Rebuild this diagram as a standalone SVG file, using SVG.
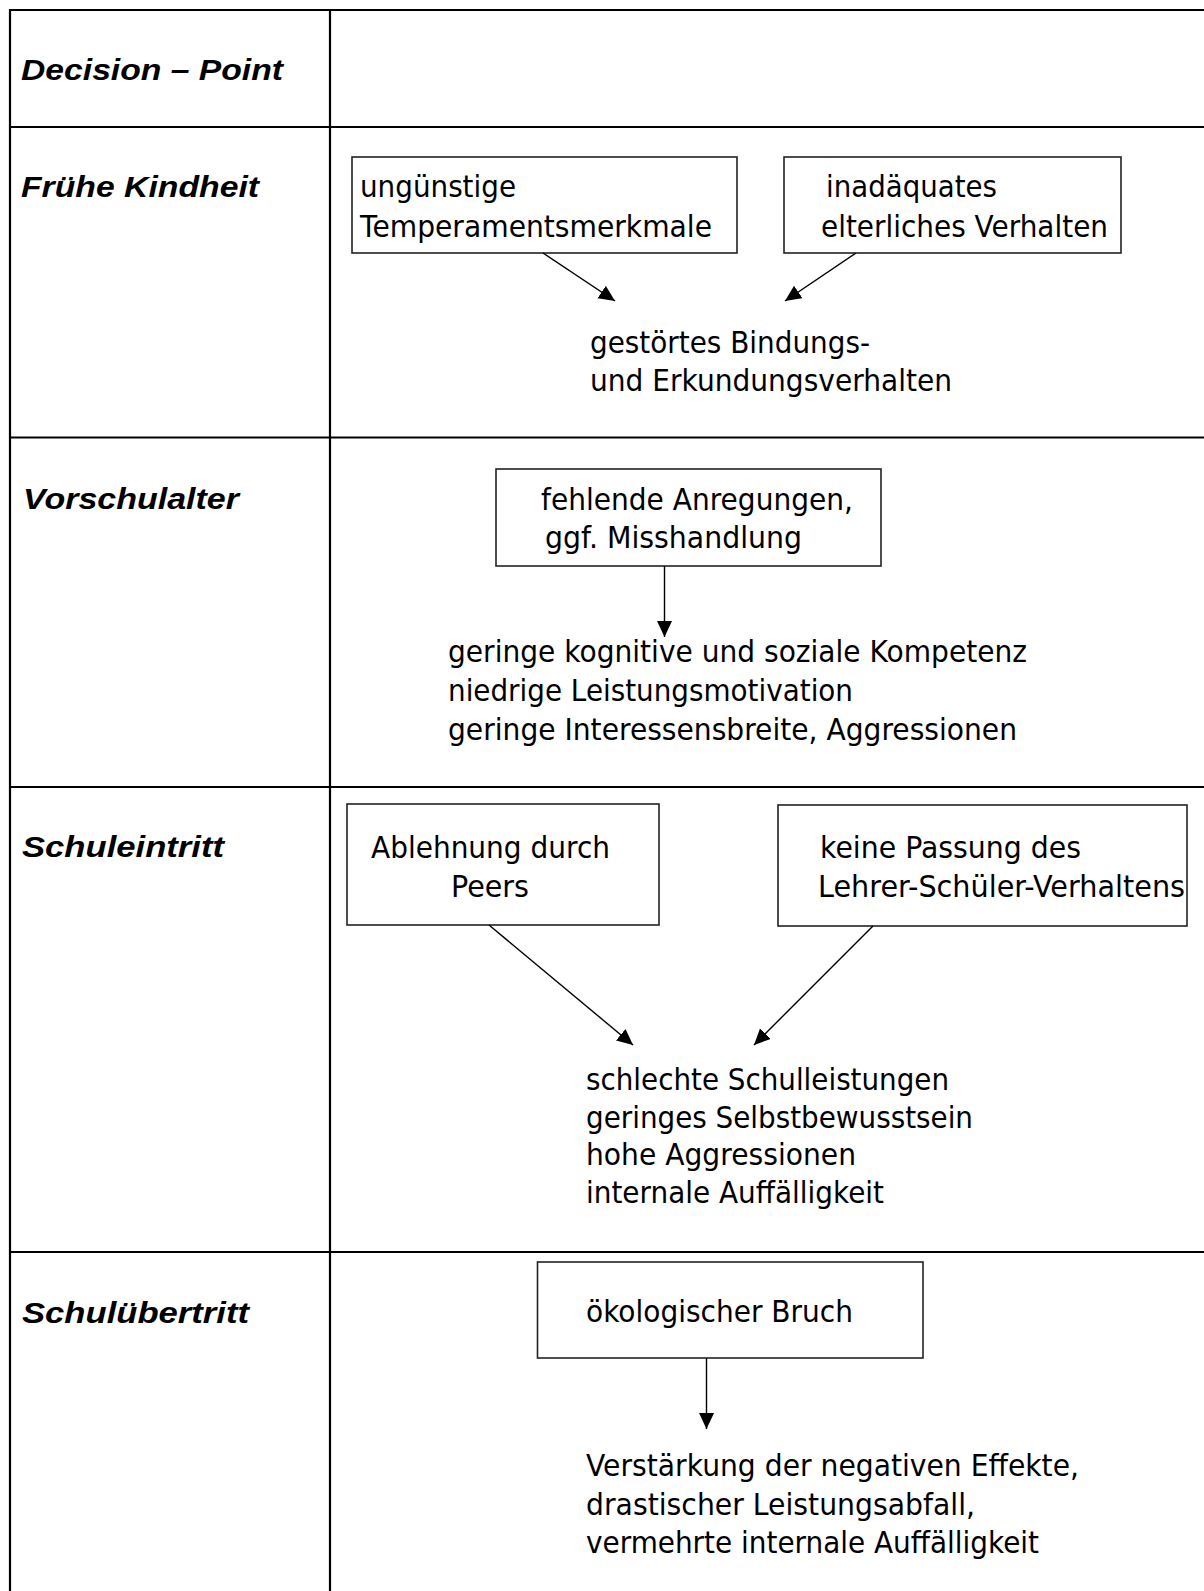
<svg xmlns="http://www.w3.org/2000/svg" width="1204" height="1591" viewBox="0 0 1204 1591">
<style>
.grid{stroke:#000;stroke-width:2.2;fill:none}
.box{fill:#fff;stroke:#222;stroke-width:1.6}
.lbl{font-family:"Liberation Sans",Arial,sans-serif;font-weight:bold;font-style:italic;font-size:30px;fill:#000}
.txt{font-family:"DejaVu Sans","Noto Sans",sans-serif;font-size:30px;fill:#000}
.arr{stroke:#000;stroke-width:1.4;fill:none;marker-end:url(#ah)}
</style>
<defs>
<marker id="ah" markerUnits="userSpaceOnUse" markerWidth="18" markerHeight="16" refX="16" refY="7.5" orient="auto">
<path d="M0,0 L16,7.5 L0,15 z" fill="#000"/>
</marker>
</defs>
<rect width="1204" height="1591" fill="#fff"/>
<g id="table">
<line class="grid" x1="10" y1="10" x2="1204" y2="10"/>
<line class="grid" x1="10" y1="9" x2="10" y2="1591"/>
<line class="grid" x1="330" y1="9" x2="330" y2="1591"/>
<line class="grid" x1="10" y1="127" x2="1204" y2="127"/>
<line class="grid" x1="10" y1="437.5" x2="1204" y2="437.5"/>
<line class="grid" x1="10" y1="787" x2="1204" y2="787"/>
<line class="grid" x1="10" y1="1252" x2="1204" y2="1252"/>
</g>
<g id="labels">
<text class="lbl" x="21" y="80" textLength="262" lengthAdjust="spacingAndGlyphs">Decision – Point</text>
<text class="lbl" x="21" y="197" textLength="238" lengthAdjust="spacingAndGlyphs">Frühe Kindheit</text>
<text class="lbl" x="23" y="509" textLength="216" lengthAdjust="spacingAndGlyphs">Vorschulalter</text>
<text class="lbl" x="22" y="857" textLength="202" lengthAdjust="spacingAndGlyphs">Schuleintritt</text>
<text class="lbl" x="22" y="1323" textLength="227" lengthAdjust="spacingAndGlyphs">Schulübertritt</text>
</g>
<g id="n1">
<rect class="box" x="352" y="157" width="385" height="96"/>
<text class="txt" x="360" y="197" textLength="156" lengthAdjust="spacingAndGlyphs">ungünstige</text>
<text class="txt" x="360" y="237" textLength="352" lengthAdjust="spacingAndGlyphs">Temperamentsmerkmale</text>
</g>
<g id="n2">
<rect class="box" x="784" y="157" width="337" height="96"/>
<text class="txt" x="826" y="197" textLength="171" lengthAdjust="spacingAndGlyphs">inadäquates</text>
<text class="txt" x="821" y="237" textLength="287" lengthAdjust="spacingAndGlyphs">elterliches Verhalten</text>
</g>
<g id="n3">
<text class="txt" x="590" y="353" textLength="280" lengthAdjust="spacingAndGlyphs">gestörtes Bindungs-</text>
<text class="txt" x="590" y="391" textLength="362" lengthAdjust="spacingAndGlyphs">und Erkundungsverhalten</text>
</g>
<g id="n4">
<rect class="box" x="496" y="469" width="385" height="97"/>
<text class="txt" x="541" y="510" textLength="312" lengthAdjust="spacingAndGlyphs">fehlende Anregungen,</text>
<text class="txt" x="545" y="548" textLength="257" lengthAdjust="spacingAndGlyphs">ggf. Misshandlung</text>
</g>
<g id="n5">
<text class="txt" x="448" y="662" textLength="579" lengthAdjust="spacingAndGlyphs">geringe kognitive und soziale Kompetenz</text>
<text class="txt" x="448" y="701" textLength="405" lengthAdjust="spacingAndGlyphs">niedrige Leistungsmotivation</text>
<text class="txt" x="448" y="740" textLength="569" lengthAdjust="spacingAndGlyphs">geringe Interessensbreite, Aggressionen</text>
</g>
<g id="n6">
<rect class="box" x="347" y="804" width="312" height="121"/>
<text class="txt" x="371" y="858" textLength="239" lengthAdjust="spacingAndGlyphs">Ablehnung durch</text>
<text class="txt" x="451" y="897" textLength="78" lengthAdjust="spacingAndGlyphs">Peers</text>
</g>
<g id="n7">
<rect class="box" x="778" y="805" width="409" height="121"/>
<text class="txt" x="820" y="858" textLength="261" lengthAdjust="spacingAndGlyphs">keine Passung des</text>
<text class="txt" x="818" y="897" textLength="367" lengthAdjust="spacingAndGlyphs">Lehrer-Schüler-Verhaltens</text>
</g>
<g id="n8">
<text class="txt" x="586" y="1090" textLength="363" lengthAdjust="spacingAndGlyphs">schlechte Schulleistungen</text>
<text class="txt" x="586" y="1128" textLength="387" lengthAdjust="spacingAndGlyphs">geringes Selbstbewusstsein</text>
<text class="txt" x="586" y="1165" textLength="270" lengthAdjust="spacingAndGlyphs">hohe Aggressionen</text>
<text class="txt" x="586" y="1203" textLength="298" lengthAdjust="spacingAndGlyphs">internale Auffälligkeit</text>
</g>
<g id="n9">
<rect class="box" x="537.5" y="1262" width="385.5" height="96"/>
<text class="txt" x="586" y="1322" textLength="267" lengthAdjust="spacingAndGlyphs">ökologischer Bruch</text>
</g>
<g id="n10">
<text class="txt" x="586" y="1476" textLength="493" lengthAdjust="spacingAndGlyphs">Verstärkung der negativen Effekte,</text>
<text class="txt" x="586" y="1515" textLength="389" lengthAdjust="spacingAndGlyphs">drastischer Leistungsabfall,</text>
<text class="txt" x="586" y="1553" textLength="453" lengthAdjust="spacingAndGlyphs">vermehrte internale Auffälligkeit</text>
</g>
<g id="connectors">
<line class="arr" x1="543" y1="253" x2="615" y2="301"/>
<line class="arr" x1="856" y1="253" x2="785" y2="301"/>
<line class="arr" x1="664.5" y1="566" x2="664.5" y2="637"/>
<line class="arr" x1="489" y1="925" x2="633" y2="1045"/>
<line class="arr" x1="873" y1="926" x2="754" y2="1045"/>
<line class="arr" x1="706.5" y1="1358" x2="706.5" y2="1429"/>
</g>
</svg>
